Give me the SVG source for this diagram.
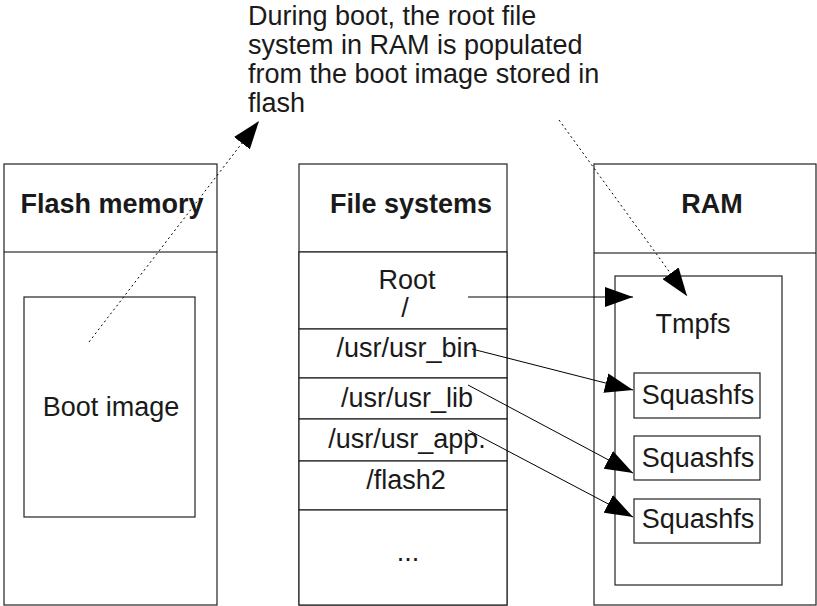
<svg xmlns="http://www.w3.org/2000/svg" width="817" height="606" viewBox="0 0 817 606">
<style>
.box{fill:#fff;stroke:#222;stroke-width:1.2}
.t{font-family:"Liberation Sans",Arial,sans-serif;font-size:27px;fill:#1a1a1a}
.c{text-anchor:middle}
.b{font-weight:bold}
.ln{stroke:#000;stroke-width:1;fill:none}
.dot{stroke:#000;stroke-width:1;fill:none;stroke-dasharray:2 3}
</style>
<defs>
<marker id="ah" viewBox="0 0 28 20" refX="28" refY="10" markerWidth="28" markerHeight="20" markerUnits="userSpaceOnUse" orient="auto">
<path d="M0,0 L28,10 L0,20 z" fill="#000"/>
</marker>
</defs>
<rect width="817" height="606" fill="#fff"/>
<g id="note">
<text class="t" x="248" y="25">During boot, the root file</text>
<text class="t" x="248" y="54">system in RAM is populated</text>
<text class="t" x="248" y="83">from the boot image stored in</text>
<text class="t" x="248" y="112">flash</text>
</g>
<g id="flash">
<rect class="box" x="4" y="164" width="213" height="441"/>
<line class="ln" x1="4" y1="252" x2="217" y2="252"/>
<text class="t b c" x="112" y="213">Flash memory</text>
</g>
<g id="bootimage">
<rect class="box" x="24" y="297" width="171" height="220"/>
<text class="t c" x="111" y="416">Boot image</text>
</g>
<g id="filesystems">
<rect class="box" x="299" y="164" width="208" height="441"/>
<line class="ln" x1="299" y1="252" x2="507" y2="252"/>
<text class="t b c" x="411" y="213">File systems</text>
</g>
<g id="root">
<rect class="box" x="299" y="252" width="208" height="77"/>
<text class="t c" x="407" y="289">Root</text>
<text class="t c" x="405" y="317">/</text>
</g>
<g id="usrbin">
<rect class="box" x="299" y="329" width="208" height="49"/>
<text class="t c" x="407" y="357">/usr/usr_bin</text>
</g>
<g id="usrlib">
<rect class="box" x="299" y="378" width="208" height="41"/>
<text class="t c" x="407" y="407">/usr/usr_lib</text>
</g>
<g id="usrapp">
<rect class="box" x="299" y="419" width="208" height="42"/>
<text class="t c" x="407" y="448">/usr/usr_app.</text>
</g>
<g id="flash2">
<rect class="box" x="299" y="461" width="208" height="49"/>
<text class="t c" x="406" y="489">/flash2</text>
</g>
<g id="more">
<rect class="box" x="299" y="510" width="208" height="95"/>
<text class="t c" x="408" y="561">...</text>
</g>
<g id="ram">
<rect class="box" x="594" y="164" width="222" height="441"/>
<line class="ln" x1="594" y1="253" x2="816" y2="253"/>
<text class="t b c" x="712" y="213">RAM</text>
</g>
<g id="tmpfs">
<rect class="box" x="615" y="276" width="167" height="309"/>
<text class="t c" x="693" y="333">Tmpfs</text>
</g>
<g id="squash1">
<rect class="box" x="634" y="373" width="126" height="45"/>
<text class="t c" x="698" y="404">Squashfs</text>
</g>
<g id="squash2">
<rect class="box" x="634" y="436" width="126" height="44"/>
<text class="t c" x="698" y="467">Squashfs</text>
</g>
<g id="squash3">
<rect class="box" x="634" y="499" width="126" height="44"/>
<text class="t c" x="698" y="528">Squashfs</text>
</g>
<g id="connectors">
<line class="dot" x1="89" y1="342" x2="259" y2="121" marker-end="url(#ah)"/>
<line class="dot" x1="559" y1="120" x2="687" y2="296" marker-end="url(#ah)"/>
<line class="ln" x1="468" y1="297" x2="633" y2="297" marker-end="url(#ah)"/>
<line class="ln" x1="472" y1="349" x2="633" y2="390" marker-end="url(#ah)"/>
<line class="ln" x1="468" y1="385" x2="633" y2="473" marker-end="url(#ah)"/>
<line class="ln" x1="468" y1="430" x2="633" y2="517" marker-end="url(#ah)"/>
</g>
</svg>
